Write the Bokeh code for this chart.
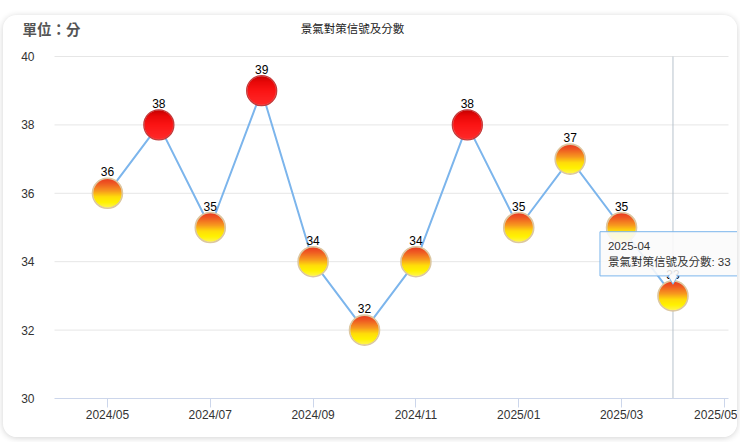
import numpy as np
from bokeh.plotting import figure
from bokeh.models import ColumnDataSource, FixedTicker, Label
from bokeh.embed import file_html
from bokeh.resources import INLINE
from bokeh.core.properties import value

months = ["2024/05", "2024/06", "2024/07", "2024/08", "2024/09", "2024/10",
          "2024/11", "2024/12", "2025/01", "2025/02", "2025/03", "2025/04"]
scores = [36, 38, 35, 39, 34, 32, 34, 38, 35, 37, 35, 33]
tick_labels = ["2024/05", "2024/07", "2024/09", "2024/11", "2025/01", "2025/03", "2025/05"]
y_ticks = [30, 32, 34, 36, 38, 40]
title_text = "景氣對策信號及分數"
unit_text = "單位：分"
hover_index = 11

LAT = "Liberation Sans, 'Noto Sans CJK TC'"
CJK = "'Noto Sans CJK TC'"

# figure geometry (pixels) and plot-area data bounds
W, H = 734, 422
PL, PR, PT, PB = 51, 9, 41, 39          # plot area margins inside the card
px0, px1 = -1.03, 12.08                  # plot area x range (month index)
py0, py1 = 30, 40                         # plot area y range
ppx = (W - PL - PR) / (px1 - px0)
ppy = (H - PT - PB) / (py1 - py0)
x_lo, x_hi = px0 - PL / ppx, px1 + PR / ppx
y_lo, y_hi = py0 - PB / ppy, py1 + PT / ppy

xs = list(range(len(months)))
p = figure(width=W, height=H, output_backend="svg", toolbar_location=None,
           x_range=(x_lo, x_hi), y_range=(y_lo, y_hi),
           min_border_left=0, min_border_right=0, min_border_top=0, min_border_bottom=0,
           background_fill_color="white", border_fill_color="white")
p.outline_line_color = None
p.styles = {"margin-left": "3px", "margin-top": "15px", "border-radius": "14px",
            "box-shadow": "0 1px 6px rgba(0,0,0,0.18)", "overflow": "hidden"}

# x axis
tick_pos = [months.index(t) if t in months else len(months) for t in tick_labels]
xa = p.xaxis[0]
xa.fixed_location = py0
xa.bounds = (px0, px1)
xa.ticker = FixedTicker(ticks=tick_pos)
xa.major_label_overrides = {tp: lab for tp, lab in zip(tick_pos, tick_labels)}
xa.axis_line_color = "#ccd6eb"
xa.major_tick_line_color = "#ccd6eb"
xa.major_tick_out = 9
xa.major_tick_in = 0
xa.minor_tick_line_color = None
xa.major_label_text_font = "Liberation Sans"
xa.major_label_text_font_size = "12px"
xa.major_label_text_color = "#333333"
xa.major_label_standoff = 0

# y axis
ya = p.yaxis[0]
ya.fixed_location = px0
ya.bounds = (py0, py1)
ya.ticker = FixedTicker(ticks=y_ticks)
ya.axis_line_color = None
ya.major_tick_line_color = None
ya.major_tick_out = 0
ya.major_tick_in = 0
ya.minor_tick_line_color = None
ya.major_label_text_font = "Liberation Sans"
ya.major_label_text_font_size = "12px"
ya.major_label_text_color = "#333333"
ya.major_label_standoff = 20

p.xgrid.grid_line_color = None
p.ygrid.grid_line_color = None
grid_ticks = [t for t in y_ticks if t > py0]
p.segment(x0=[px0] * len(grid_ticks), y0=grid_ticks, x1=[px1] * len(grid_ticks), y1=grid_ticks,
          line_color="#e6e6e6", line_width=1, level="underlay")

# crosshair
p.segment(x0=[xs[hover_index]], y0=[py0], x1=[xs[hover_index]], y1=[py1],
          line_color="#b8c2cc", line_width=1, level="underlay")

src = ColumnDataSource(dict(x=xs, y=scores, lab=[str(s) for s in scores]))
p.line("x", "y", source=src, line_color="#7cb5ec", line_width=2)

red_x = [x for x, s in zip(xs, scores) if s >= 38]
red_y = [s for s in scores if s >= 38]
yel_x = [x for x, s in zip(xs, scores) if s < 38]
yel_y = [s for s in scores if s < 38]

D = 30  # marker diameter in pixels


def hex_rgb(c):
    return np.array([int(c[i:i + 2], 16) for i in (1, 3, 5)], dtype=float)


def gradient_disc(stops, size):
    yy, xx = np.mgrid[0:size, 0:size] + 0.5
    r = np.hypot(xx - size / 2, yy - size / 2)
    alpha = np.clip(size / 2 - r + 0.3, 0, 1)
    t = 1 - yy / size  # row 0 is drawn at the bottom
    pos = [s[0] for s in stops]
    cols = np.array([hex_rgb(s[1]) for s in stops])
    rgb = np.stack([np.interp(t, pos, cols[:, k]) for k in range(3)], axis=-1)
    out = np.zeros((size, size, 4), dtype=np.uint8)
    out[..., :3] = np.round(rgb).astype(np.uint8)
    out[..., 3] = np.round(alpha * 255).astype(np.uint8)
    return out.view(dtype=np.uint32).reshape((size, size))


yel_img = gradient_disc([(0.0, "#e8381e"), (0.18, "#ef5a22"), (0.42, "#f7971f"),
                         (0.62, "#ffdc0a"), (0.8, "#fff200"), (1.0, "#fff45a")], D)
red_img = gradient_disc([(0.0, "#c40000"), (0.2, "#e80808"), (0.5, "#fb1414"),
                         (1.0, "#ff2a2a")], D)

p.image_rgba(image=[yel_img] * len(yel_x), x=yel_x, y=yel_y, dw=D, dh=D,
             dw_units="screen", dh_units="screen", anchor="center")
p.scatter(yel_x, yel_y, marker="circle", size=D, fill_color=None,
          line_color="#dcc7a0", line_width=1.6)
p.image_rgba(image=[red_img] * len(red_x), x=red_x, y=red_y, dw=D, dh=D,
             dw_units="screen", dh_units="screen", anchor="center")
p.scatter(red_x, red_y, marker="circle", size=D, fill_color=None,
          line_color="#c33a3a", line_width=1.3)

p.text("x", "y", text="lab", source=src, text_align="center", text_baseline="bottom",
       y_offset=-17, text_font=value("Liberation Sans"), text_font_size="12px",
       text_color="#000000")

# titles (screen units relative to the frame, which fills the card)
p.add_layout(Label(x=19, y=H - 13, x_units="screen", y_units="screen", text=unit_text,
                   text_font=CJK, text_font_size="14.5px", text_font_style="bold",
                   text_color="#555555", text_baseline="middle"))
p.add_layout(Label(x=349, y=H - 12, x_units="screen", y_units="screen", text=title_text,
                   text_font=CJK, text_font_size="11.5px", text_color="#222222",
                   text_align="center", text_baseline="middle"))

# tooltip
tip = f"{months[hover_index].replace('/', '-')}\n{title_text}: {scores[hover_index]}"
p.add_layout(Label(x=xs[hover_index], y=scores[hover_index], x_offset=-73, y_offset=20,
                   text=tip, text_font=LAT, text_font_size="11.5px", text_color="#333333",
                   text_align="left", text_baseline="bottom", text_line_height=1.35,
                   background_fill_color="#fbfbfb", background_fill_alpha=0.88,
                   border_line_color="#7cb5ec", border_line_width=1, padding=8))
arrow = p.scatter([xs[hover_index]], [scores[hover_index] + 17.4 / ppy], marker="inverted_triangle",
                  size=10, fill_color="#fbfbfb", line_color="#7cb5ec", line_width=1)
arrow.level = "overlay"
arrow2 = p.scatter([xs[hover_index]], [scores[hover_index] + 19.0 / ppy], marker="inverted_triangle",
                   size=8, fill_color="#fbfbfb", line_color=None)
arrow2.level = "overlay"

open("out.html", "w").write(file_html(p, INLINE))
